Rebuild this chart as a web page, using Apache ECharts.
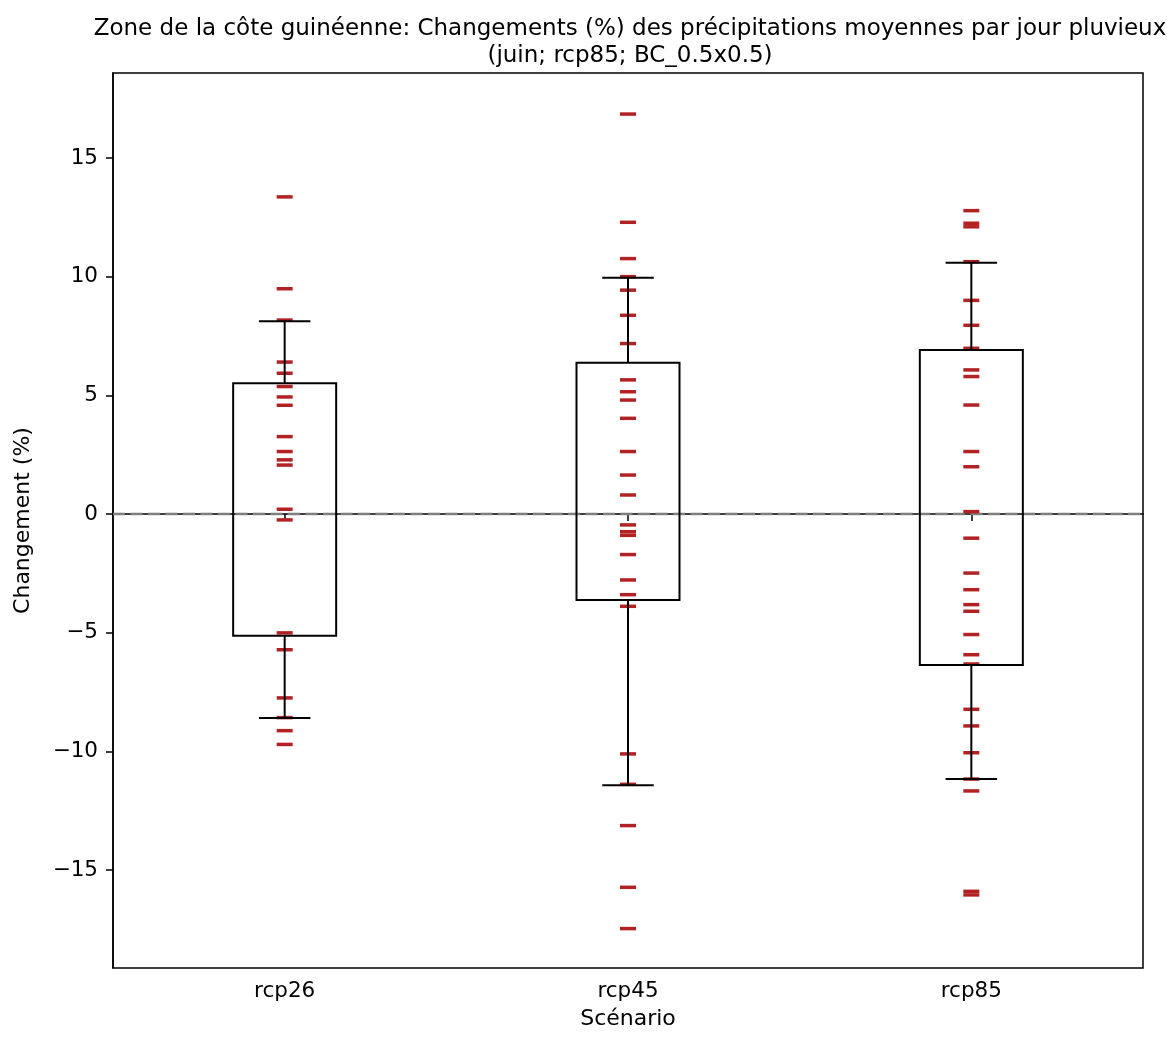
<!DOCTYPE html>
<html>
<head>
<meta charset="utf-8">
<script src="https://cdn.jsdelivr.net/npm/echarts@6/dist/echarts.min.js"></script>
<style>html,body{margin:0;padding:0;background:#fff;}#c{width:1167px;height:1039px;}</style>
</head>
<body>
<div id="c"></div>
<script>
const categories = ['rcp26', 'rcp45', 'rcp85'];
const yTicks = [-15, -10, -5, 0, 5, 10, 15];

const rcp26 = [13.36, 9.49, 8.17, 6.40, 5.93, 5.37, 4.93, 4.58, 3.26, 2.63, 2.28, 2.06,
  0.20, -0.25, -5.01, -5.72, -7.75, -8.58, -9.13, -9.71];
const rcp45 = [16.85, 12.29, 10.76, 10.00, 9.43, 8.37, 7.18, 5.65, 5.15, 4.80, 4.03, 2.63,
  1.64, 0.80, -0.46, -0.75, -0.90, -1.71, -2.78, -3.40, -3.89, -10.11, -11.39, -13.13, -15.73, -17.47];
const rcp85 = [12.78, 12.25, 12.10, 10.63, 9.00, 7.95, 6.98, 6.07, 5.79, 4.59, 2.63, 1.99,
  0.10, -1.02, -2.49, -3.19, -3.82, -4.10, -5.08, -5.93, -6.32, -8.23, -8.93, -10.06, -11.17,
  -11.67, -15.90, -16.05];

// box statistics: [lower whisker, Q1, Q3, upper whisker]
const box26 = [-8.60, -5.13, 5.51, 8.12];
const box45 = [-11.43, -3.62, 6.37, 9.95];
const box85 = [-11.17, -6.36, 6.91, 10.59];

const refLine = [0];

const seriesValues = [rcp26, rcp45, rcp85];
const boxStats = [box26, box45, box85];

const scatterData = [];
seriesValues.forEach((arr, i) => arr.forEach(v => scatterData.push([categories[i], v])));
const boxData = boxStats.map((b, i) => [i, b[0], b[1], b[2], b[3]]);

const chart = echarts.init(document.getElementById('c'), null, {renderer: 'canvas'});
const FONT = 'DejaVu Sans';
const fmt = v => String(v).replace('-', '\u2212');

chart.setOption({
  animation: false,
  backgroundColor: '#ffffff',
  textStyle: {fontFamily: FONT, color: '#000'},
  title: {
    text: 'Zone de la côte guinéenne: Changements (%) des précipitations moyennes par jour pluvieux\n(juin; rcp85; BC_0.5x0.5)',
    left: 625, top: 11, textAlign: 'center',
    textStyle: {fontFamily: FONT, fontSize: 23, fontWeight: 'normal', color: '#000', lineHeight: 27}
  },
  grid: {left: 113, top: 73, right: 24, bottom: 71, show: true, borderColor: '#000', borderWidth: 1.5, backgroundColor: 'transparent'},
  xAxis: {
    type: 'category', data: categories, boundaryGap: true,
    name: 'Scénario', nameLocation: 'middle', nameGap: 40,
    nameTextStyle: {fontFamily: FONT, fontSize: 22, color: '#000'},
    axisLine: {show: true, lineStyle: {color: '#000', width: 1.5}},
    axisTick: {show: true, alignWithLabel: true, length: 7, lineStyle: {color: '#000', width: 1.5}},
    axisLabel: {fontFamily: FONT, fontSize: 21.5, color: '#000', margin: 12},
    splitLine: {show: false}
  },
  yAxis: {
    type: 'value', min: -19.13, max: 18.58,
    name: 'Changement (%)', nameLocation: 'middle', nameGap: 79,
    nameTextStyle: {fontFamily: FONT, fontSize: 22, color: '#000'},
    axisLine: {show: true, lineStyle: {color: '#000', width: 1.5}},
    axisTick: {show: true, length: 7, lineStyle: {color: '#000', width: 1.5}, customValues: yTicks},
    axisLabel: {fontFamily: FONT, fontSize: 21.5, color: '#000', margin: 15, customValues: yTicks, formatter: fmt},
    splitLine: {show: false}
  },
  series: [
    {
      type: 'custom', data: refLine.map(v => [0, v]), z: 1, silent: true,
      renderItem: function (params, api) {
        const cs = params.coordSys;
        const y = api.coord([0, api.value(1)])[1];
        const dash = 12, gap = 5.5;
        const children = [];
        for (let x = cs.x; x < cs.x + cs.width; x += dash + gap) {
          const x2 = Math.min(x + dash, cs.x + cs.width);
          children.push({
            type: 'line',
            shape: {x1: x, y1: y, x2: x2, y2: y},
            style: {stroke: '#7f7f7f', lineWidth: 2.5, fill: null}
          });
        }
        return {type: 'group', children: children};
      }
    },
    {
      type: 'scatter', data: scatterData, symbol: 'rect', symbolSize: [16, 3.5],
      itemStyle: {color: '#b22222', opacity: 1}, z: 2, silent: true
    },
    {
      type: 'custom', data: boxData, z: 3, silent: true,
      renderItem: function (params, api) {
        const x = api.value(0);
        const pLo = api.coord([x, api.value(1)]);
        const pQ1 = api.coord([x, api.value(2)]);
        const pQ3 = api.coord([x, api.value(3)]);
        const pHi = api.coord([x, api.value(4)]);
        const band = api.size([1, 0])[0];
        const bw = band * 0.3, cw = band * 0.15;
        const cx = pQ1[0];
        const st = {stroke: '#000', lineWidth: 2, fill: null};
        return {
          type: 'group',
          children: [
            {type: 'rect', shape: {x: cx - bw / 2, y: pQ3[1], width: bw, height: pQ1[1] - pQ3[1]}, style: {stroke: '#000', lineWidth: 2, fill: 'none'}},
            {type: 'line', shape: {x1: cx, y1: pQ3[1], x2: cx, y2: pHi[1]}, style: st},
            {type: 'line', shape: {x1: cx, y1: pQ1[1], x2: cx, y2: pLo[1]}, style: st},
            {type: 'line', shape: {x1: cx - cw / 2, y1: pHi[1], x2: cx + cw / 2, y2: pHi[1]}, style: st},
            {type: 'line', shape: {x1: cx - cw / 2, y1: pLo[1], x2: cx + cw / 2, y2: pLo[1]}, style: st}
          ]
        };
      }
    }
  ]
});
</script>
</body>
</html>
